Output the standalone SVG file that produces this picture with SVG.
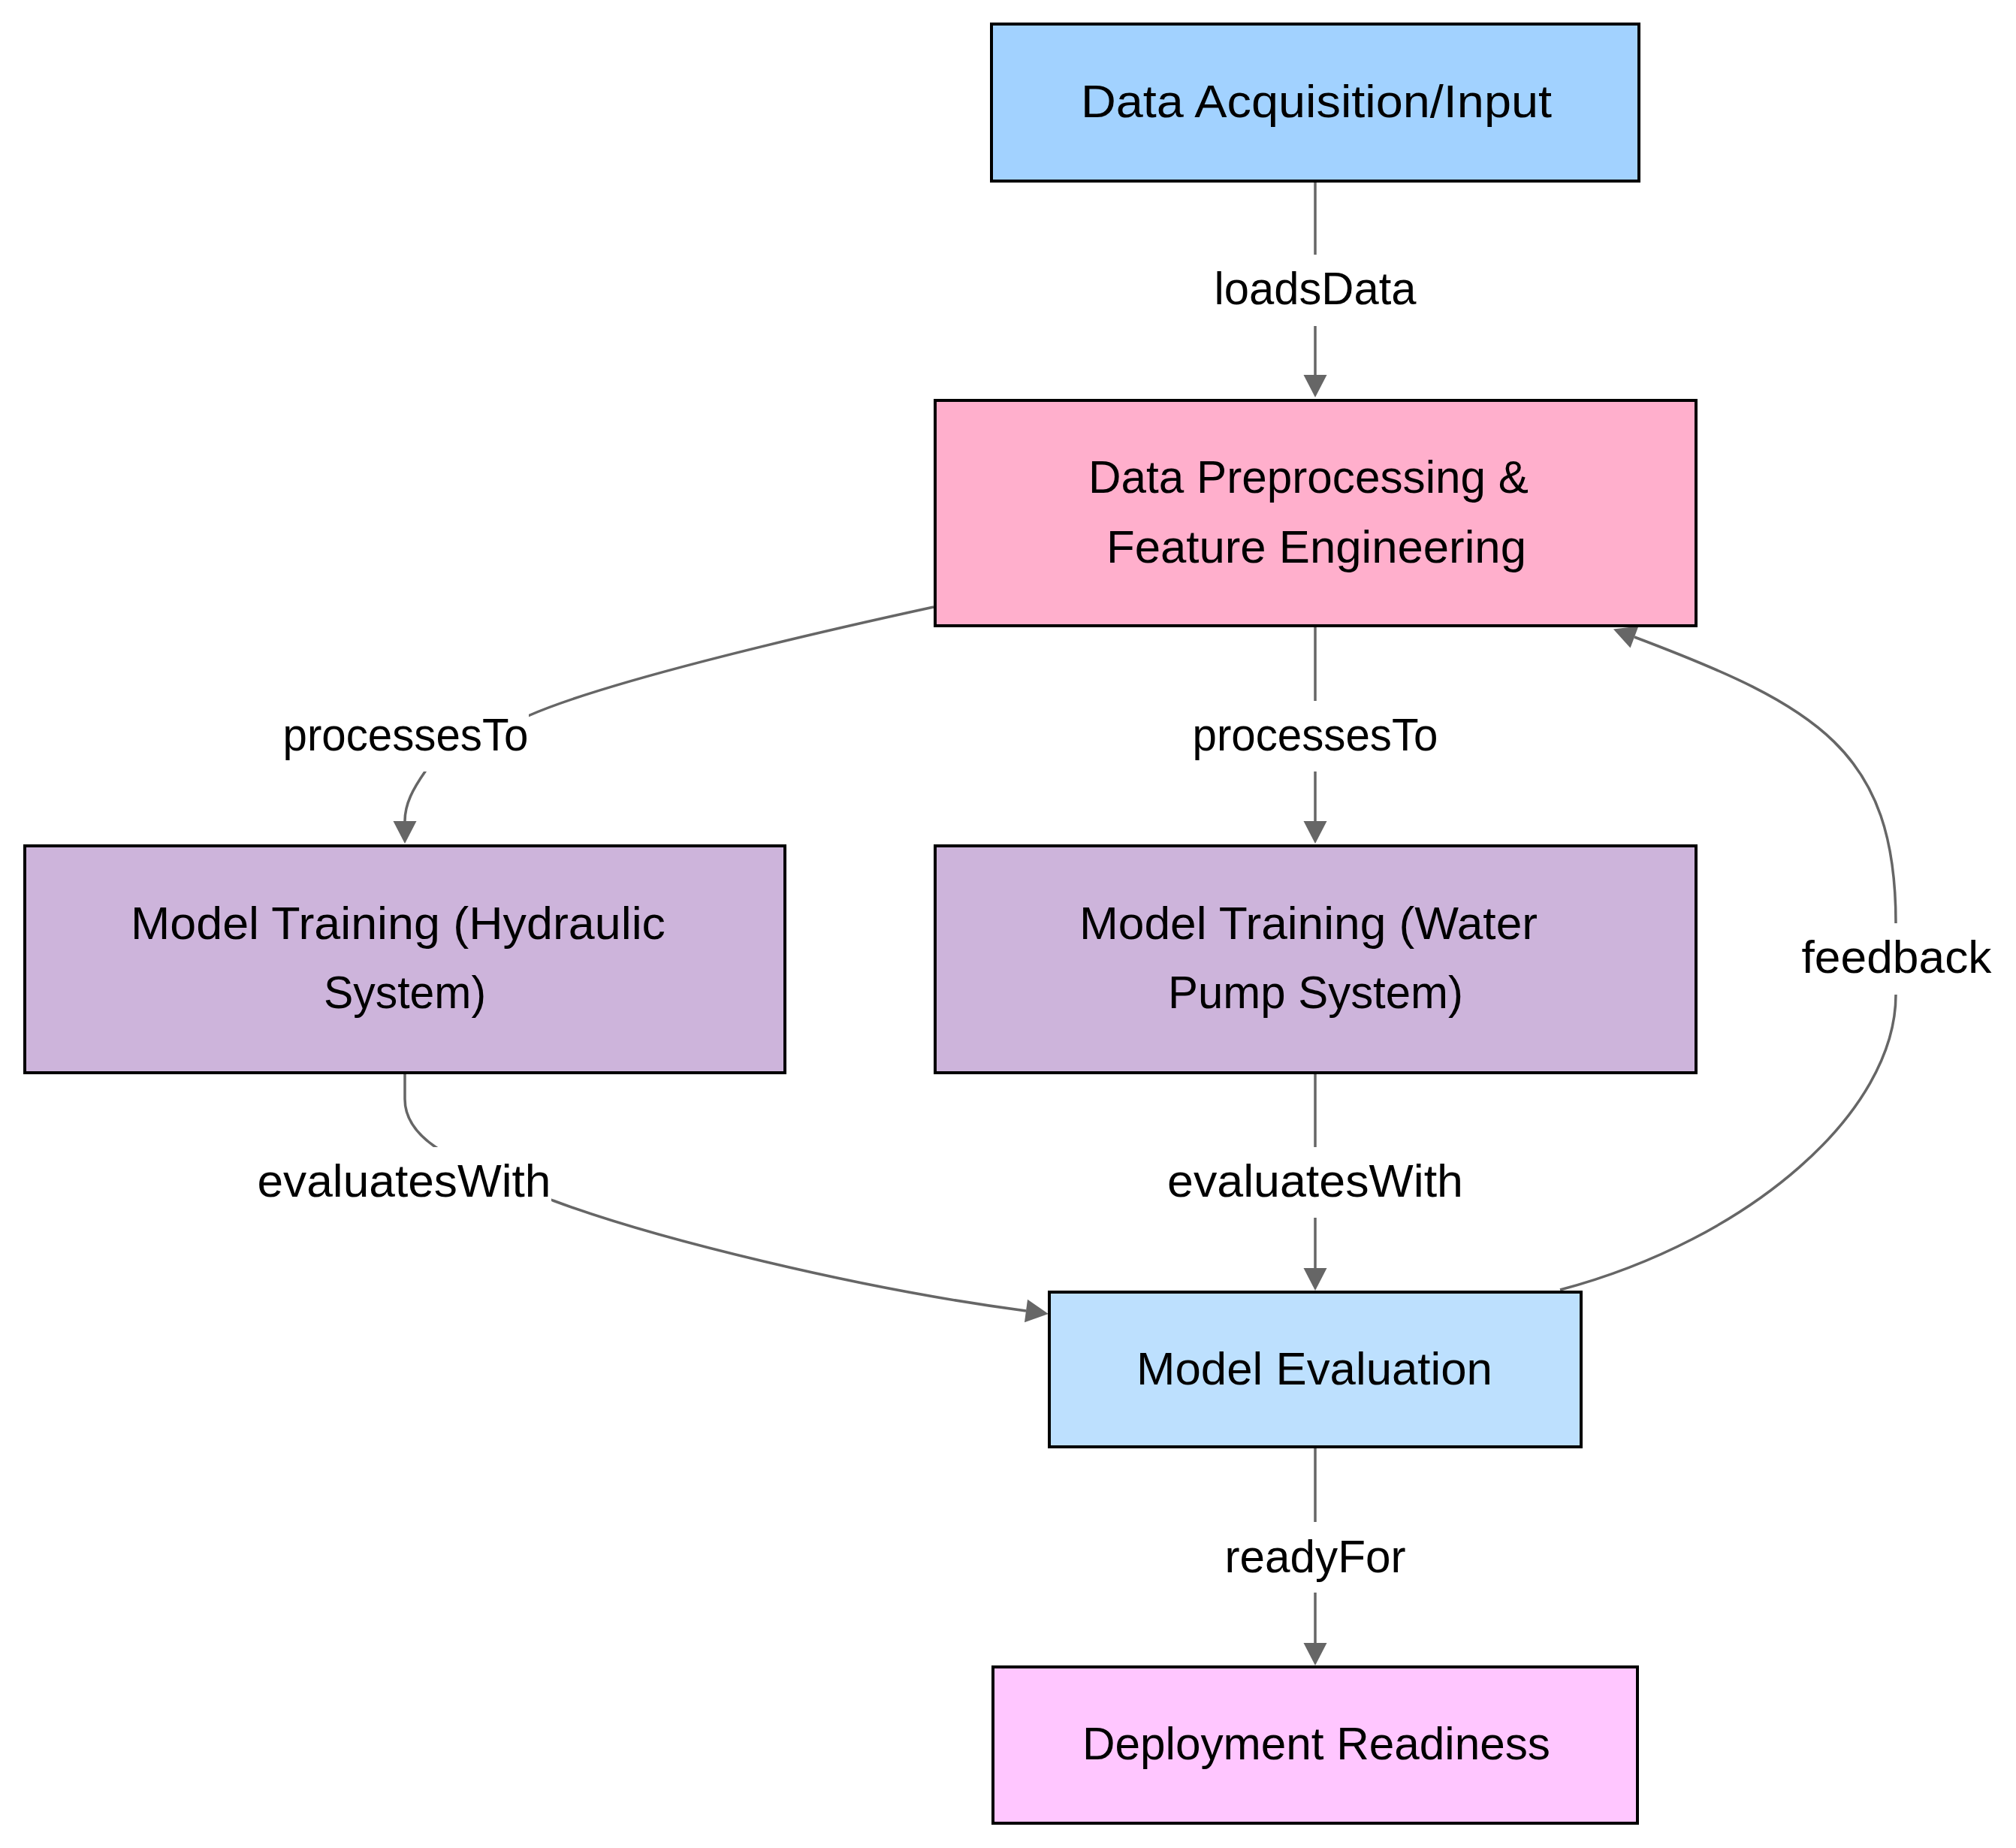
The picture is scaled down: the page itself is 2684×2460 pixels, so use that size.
<svg xmlns="http://www.w3.org/2000/svg" width="2684" height="2460" viewBox="0 0 2684 2460">
<style>
  .node rect { stroke: #000; stroke-width: 4; }
  .node text { font-family: "Liberation Sans", Arial, sans-serif; font-size: 61px; fill: #000; }
  .edge { fill: none; stroke: #666; stroke-width: 3.5; }
  .elabel rect { fill: #fff; stroke: none; }
  .elabel text { font-family: "Liberation Sans", Arial, sans-serif; font-size: 61px; fill: #000; text-anchor: middle; }
  .acq { fill: #A2D2FF; }
  .pre { fill: #FFAFCC; }
  .trn { fill: #CDB4DB; }
  .evl { fill: #BDE0FE; }
  .dep { fill: #FFC6FF; }
</style>
<defs>
  <marker id="arrow" markerUnits="userSpaceOnUse" markerWidth="30" markerHeight="31" refX="0" refY="15.5" orient="auto" viewBox="0 0 30 31" overflow="visible">
    <path d="M0,0 L30,15.5 L0,31 z" fill="#666"/>
  </marker>
</defs>
<rect x="0" y="0" width="2684" height="2460" fill="#fff"/>

<g id="connectors">
  <path class="edge" marker-end="url(#arrow)" d="M1751,243 L1751,499"/>
  <path class="edge" marker-end="url(#arrow)" d="M1243,808 C1050,850 800,910 703,953 C640,980 580,1000 566,1027 C550,1050 539,1070 539,1093"/>
  <path class="edge" marker-end="url(#arrow)" d="M1751,835 L1751,1093"/>
  <path class="edge" marker-end="url(#arrow)" d="M539,1430 L539,1463 C539,1490 555,1510 580,1527 C620,1555 680,1575 736,1598 C870,1648 1140,1715 1366,1745"/>
  <path class="edge" marker-end="url(#arrow)" d="M1751,1430 L1751,1688"/>
  <path class="edge" marker-end="url(#arrow)" d="M2077,1717 C2330,1650 2524,1480 2524,1324 L2524,1229 C2524,1000 2420,940 2176,848"/>
  <path class="edge" marker-end="url(#arrow)" d="M1751,1928 L1751,2187"/>

  <g class="elabel">
    <rect x="1617" y="339" width="269" height="95"/>
    <text x="1751" y="405" textLength="269" lengthAdjust="spacingAndGlyphs">loadsData</text>
  </g>
  <g class="elabel">
    <rect x="377" y="933" width="327" height="94"/>
    <text x="540" y="999" textLength="327" lengthAdjust="spacingAndGlyphs">processesTo</text>
  </g>
  <g class="elabel">
    <rect x="1588" y="933" width="327" height="94"/>
    <text x="1751" y="999" textLength="327" lengthAdjust="spacingAndGlyphs">processesTo</text>
  </g>
  <g class="elabel">
    <rect x="343" y="1527" width="391" height="94"/>
    <text x="538" y="1593" textLength="391" lengthAdjust="spacingAndGlyphs">evaluatesWith</text>
  </g>
  <g class="elabel">
    <rect x="1554" y="1527" width="394" height="94"/>
    <text x="1751" y="1593" textLength="394" lengthAdjust="spacingAndGlyphs">evaluatesWith</text>
  </g>
  <g class="elabel">
    <rect x="2399" y="1229" width="253" height="95"/>
    <text x="2525" y="1295" textLength="253" lengthAdjust="spacingAndGlyphs">feedback</text>
  </g>
  <g class="elabel">
    <rect x="1630" y="2026" width="241" height="94"/>
    <text x="1751" y="2093" textLength="241" lengthAdjust="spacingAndGlyphs">readyFor</text>
  </g>
</g>

<g id="node-acquisition" class="node">
  <rect class="acq" x="1320" y="32" width="862" height="209"/>
  <text x="1439" y="156" textLength="627" lengthAdjust="spacingAndGlyphs">Data Acquisition/Input</text>
</g>
<g id="node-preprocessing" class="node">
  <rect class="pre" x="1245" y="533" width="1013" height="300"/>
  <text x="1449" y="656" textLength="586" lengthAdjust="spacingAndGlyphs">Data Preprocessing &amp;</text>
  <text x="1473" y="749" textLength="559" lengthAdjust="spacingAndGlyphs">Feature Engineering</text>
</g>
<g id="node-training-hydraulic" class="node">
  <rect class="trn" x="33" y="1126" width="1012" height="302"/>
  <text x="174" y="1250" textLength="712" lengthAdjust="spacingAndGlyphs">Model Training (Hydraulic</text>
  <text x="431" y="1342" textLength="216" lengthAdjust="spacingAndGlyphs">System)</text>
</g>
<g id="node-training-waterpump" class="node">
  <rect class="trn" x="1245" y="1126" width="1013" height="302"/>
  <text x="1437" y="1250" textLength="610" lengthAdjust="spacingAndGlyphs">Model Training (Water</text>
  <text x="1555" y="1342" textLength="393" lengthAdjust="spacingAndGlyphs">Pump System)</text>
</g>
<g id="node-evaluation" class="node">
  <rect class="evl" x="1397" y="1720" width="708" height="206"/>
  <text x="1513" y="1843" textLength="474" lengthAdjust="spacingAndGlyphs">Model Evaluation</text>
</g>
<g id="node-deployment" class="node">
  <rect class="dep" x="1322" y="2219" width="858" height="208"/>
  <text x="1441" y="2342" textLength="623" lengthAdjust="spacingAndGlyphs">Deployment Readiness</text>
</g>
</svg>
